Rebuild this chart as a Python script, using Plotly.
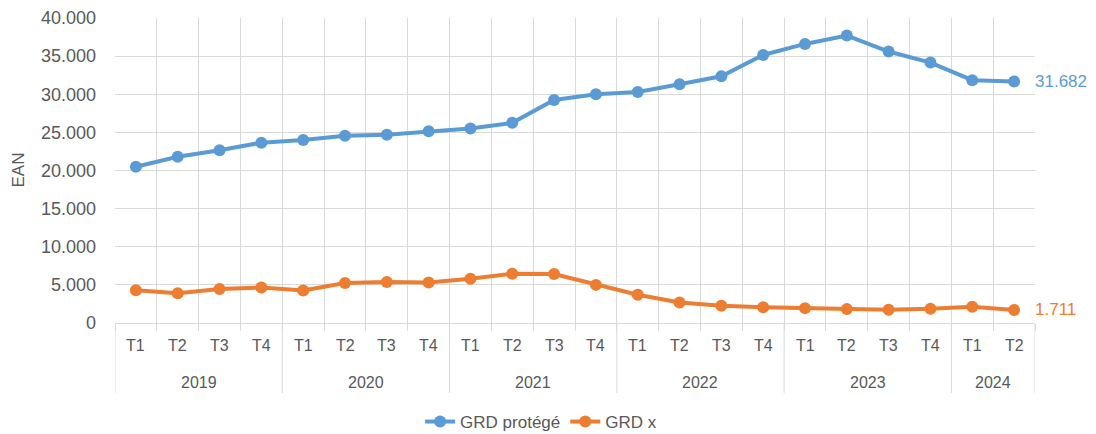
import plotly.graph_objects as go

# ── données ──────────────────────────────────────────────
annees = ["2019", "2020", "2021", "2022", "2023", "2024"]
trimestres_par_annee = [4, 4, 4, 4, 4, 2]
trimestres = ["T1", "T2", "T3", "T4"] * 5 + ["T1", "T2"]

grd_protege = [20500, 21800, 22650, 23650, 24000, 24550, 24700, 25150, 25500, 26250, 29250,
               30000, 30300, 31300, 32350, 35150, 36600, 37700, 35600, 34150, 31850, 31682]
grd_x = [4300, 3900, 4450, 4650, 4250, 5250, 5380, 5300, 5800, 6450, 6430,
         5000, 3700, 2700, 2250, 2080, 1950, 1820, 1730, 1880, 2120, 1711]

BLEU = "#5B9BD5"
ORANGE = "#ED7D31"
GRIS = "#595959"
GRILLE = "#D9D9D9"
FONT = "Liberation Sans, Arial, sans-serif"

# la page ajoute une marge de 8 px autour de la figure
W, H = 1088, 426
M = dict(l=107, r=61, t=10, b=111)
H_PLOT = H - M["t"] - M["b"]

n = len(trimestres)
idx = list(range(n))

fig = go.Figure()
for nom, vals, col in [("GRD protégé", grd_protege, BLEU), ("GRD x", grd_x, ORANGE)]:
    fig.add_trace(go.Scatter(
        x=idx, y=vals, name=nom, mode="lines+markers",
        line=dict(color=col, width=4),
        marker=dict(color=col, size=12),
        hoverinfo="y+name",
    ))

# étiquettes de fin de série
for vals, col in [(grd_protege, BLEU), (grd_x, ORANGE)]:
    fig.add_annotation(
        x=idx[-1], y=vals[-1],
        text=f"{vals[-1]:,}".replace(",", "."),
        showarrow=False, xanchor="left", xshift=19,
        font=dict(color=col, size=17, family=FONT),
    )

# axe des catégories : trimestres
for i, t in zip(idx, trimestres):
    fig.add_annotation(
        x=i, y=0, xref="x", yref="paper", yshift=-22,
        text=t, showarrow=False, xanchor="center", yanchor="middle",
        font=dict(size=16, color=GRIS, family=FONT),
    )

# axe des catégories : années + séparateurs
debut = 0
bornes = [-0.5]
for a, k in zip(annees, trimestres_par_annee):
    fig.add_annotation(
        x=debut + (k - 1) / 2, y=0, xref="x", yref="paper", yshift=-59,
        text=a, showarrow=False, xanchor="center", yanchor="middle",
        font=dict(size=16, color=GRIS, family=FONT),
    )
    debut += k
    bornes.append(debut - 0.5)
for b in bornes:
    fig.add_shape(type="line", xref="x", yref="paper", x0=b, x1=b,
                  y0=0, y1=-70 / H_PLOT, line=dict(color=GRILLE, width=1))

# titre de l'axe Y
fig.add_annotation(
    x=0, y=0.5, xref="paper", yref="paper", xshift=-97,
    xanchor="center", yanchor="middle",
    text="EAN", textangle=-90, showarrow=False,
    font=dict(size=17, color=GRIS, family=FONT),
)

fig.update_layout(
    width=W, height=H,
    paper_bgcolor="white", plot_bgcolor="white",
    separators=",.",
    font=dict(family=FONT, color=GRIS, size=17),
    margin=dict(**M, autoexpand=False),
    showlegend=True,
    legend=dict(orientation="h", xref="container", x=0.49, xanchor="center",
                yref="container", y=1 - 414 / H, yanchor="middle",
                font=dict(size=17, color=GRIS, family=FONT)),
    xaxis=dict(
        range=[-0.5, n - 0.5],
        tickvals=[i - 0.5 for i in range(n + 1)],
        ticktext=[""] * (n + 1),
        showgrid=True, gridcolor=GRILLE, gridwidth=1,
        ticks="outside", ticklen=7, tickcolor=GRILLE,
        showline=True, linecolor=GRILLE, zeroline=False,
        automargin=False,
    ),
    yaxis=dict(
        range=[0, 40000], dtick=5000, tickformat=",d",
        showgrid=True, gridcolor=GRILLE, gridwidth=1,
        zeroline=False, showline=False, automargin=False,
        ticklabelstandoff=18,
        tickfont=dict(size=18, color=GRIS, family=FONT),
    ),
)

fig.write_html("out.html")
